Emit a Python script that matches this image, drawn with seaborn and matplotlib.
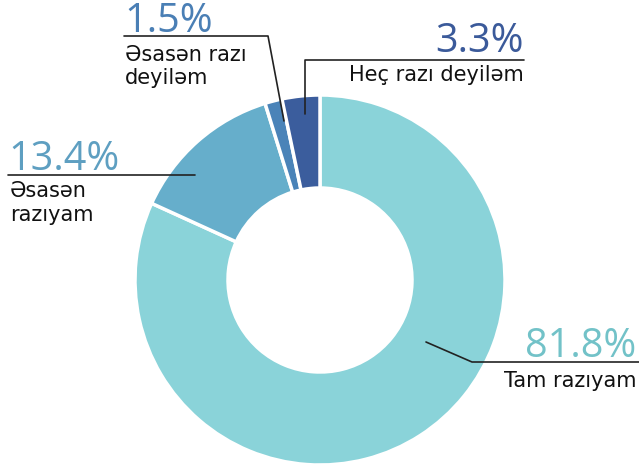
import matplotlib
matplotlib.use("Agg")
import matplotlib.pyplot as plt
import seaborn as sns

# Data
categories = ["Tam razıyam", "Əsasən razıyam", "Əsasən razı deyiləm", "Heç razı deyiləm"]
shares = [81.8, 13.4, 1.5, 3.3]
colors = ["#8ad3d9", "#66aecb", "#4a83b8", "#3b5d9d"]
pct_colors = ["#72c2c8", "#5e9fc1", "#4a7fb5", "#3b5a9a"]

W, H = 639, 470


def px(x, y):
    """Pixel coordinates (origin top-left) -> data coordinates."""
    return x, H - y


sns.set_theme(style="white")
plt.rcParams["font.family"] = ["DejaVu Sans"]

fig = plt.figure(figsize=(W / 100, H / 100), dpi=100)
ax = fig.add_axes([0, 0, 1, 1])

wedges, _ = ax.pie(
    shares,
    colors=colors,
    startangle=90,
    counterclock=False,
    center=px(320, 280),
    radius=185,
    wedgeprops=dict(width=93, edgecolor="white", linewidth=2.5),
    frame=True,
)
ax.set_xlim(0, W)
ax.set_ylim(0, H)
ax.set_aspect("equal")
ax.axis("off")

pct_font = dict(family="Open Sans", fontweight="normal", fontsize=28.5)
lab_font = dict(fontsize=15, color="#111111")
line_kw = dict(color="#222222", linewidth=1.2)

# Tam razıyam
ax.plot(*zip(px(426, 342), px(472, 362), px(639, 362)), **line_kw)
ax.text(*px(636, 357), f"{shares[0]}%", ha="right", va="baseline", color=pct_colors[0], **pct_font)
ax.text(*px(636, 381), categories[0], ha="right", va="center", **lab_font)

# Əsasən razıyam
ax.plot(*zip(px(8, 175), px(195, 175)), **line_kw)
ax.text(*px(8, 170), f"{shares[1]}%", ha="left", va="baseline", color=pct_colors[1], **pct_font)
ax.text(*px(10, 191), "Əsasən", ha="left", va="center", **lab_font)
ax.text(*px(10, 215), "razıyam", ha="left", va="center", **lab_font)

# Əsasən razı deyiləm
ax.plot(*zip(px(124, 36), px(268, 36), px(284, 121)), **line_kw)
ax.text(*px(124, 32), f"{shares[2]}%", ha="left", va="baseline", color=pct_colors[2], **pct_font)
ax.text(*px(125, 55), "Əsasən razı", ha="left", va="center", **lab_font)
ax.text(*px(125, 78), "deyiləm", ha="left", va="center", **lab_font)

# Heç razı deyiləm
ax.plot(*zip(px(524, 60), px(305, 60), px(305, 114)), **line_kw)
ax.text(*px(524, 52), f"{shares[3]}%", ha="right", va="baseline", color=pct_colors[3], **pct_font)
ax.text(*px(524, 75), categories[3], ha="right", va="center", **lab_font)

fig.savefig("out.png", dpi=100)
